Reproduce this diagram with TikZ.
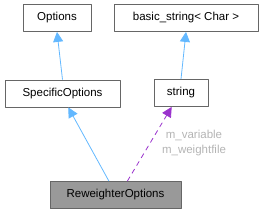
\documentclass[tikz,border=0pt]{standalone}
\usepackage{fontspec}
\setmainfont{Liberation Sans}
\usetikzlibrary{arrows.meta,calc}
\tikzset{
  cls/.style={draw=black!60,line width=0.8pt,fill=white,minimum height=27pt,inner sep=0pt},
  inherit/.style={-{Triangle[length=10pt,width=10pt]},draw=doxblue,line width=0.8pt},
  usage/.style={-{Triangle[length=10pt,width=10pt]},draw=doxpurple,dash pattern=on 5pt off 4pt,line width=0.8pt}
}
\definecolor{doxblue}{HTML}{63B8FF}
\definecolor{doxpurple}{HTML}{9A32CD}
\definecolor{lblgray}{HTML}{B4B4B4}
\begin{document}
\begin{tikzpicture}[x=1pt,y=-1pt,line join=round,font=\fontsize{11.5}{15}\selectfont]
\useasboundingbox (0,0) rectangle (264,213);
% --- classes
\node[cls,minimum width=68pt] (opt) at (57,18) {Options};
\node[cls,minimum width=144pt] (bstr) at (186,18) {basic\_string< Char >};
\node[cls,minimum width=115pt] (spec) at (62.5,93.5) {SpecificOptions};
\node[cls,minimum width=54pt] (str) at (181,93) {string};
\node[cls,minimum width=131pt,fill=black!40] (rew) at (115.5,195) {ReweighterOptions};
% --- inheritance
\draw[inherit] (spec.north) -- (opt.south);
\draw[inherit] (str.north) -- (bstr.south);
\draw[inherit] ($(rew.north west)!0.45!(rew.north east)$) -- ($(spec.south west)!0.55!(spec.south east)$);
% --- members
\draw[usage] ($(rew.north west)!0.59!(rew.north east)$) -- ($(str.south west)!0.33!(str.south east)$);
\node[lblgray,align=center] (mem) at (194,143.5) {m\_variable\\m\_weightfile};
\end{tikzpicture}
\end{document}
